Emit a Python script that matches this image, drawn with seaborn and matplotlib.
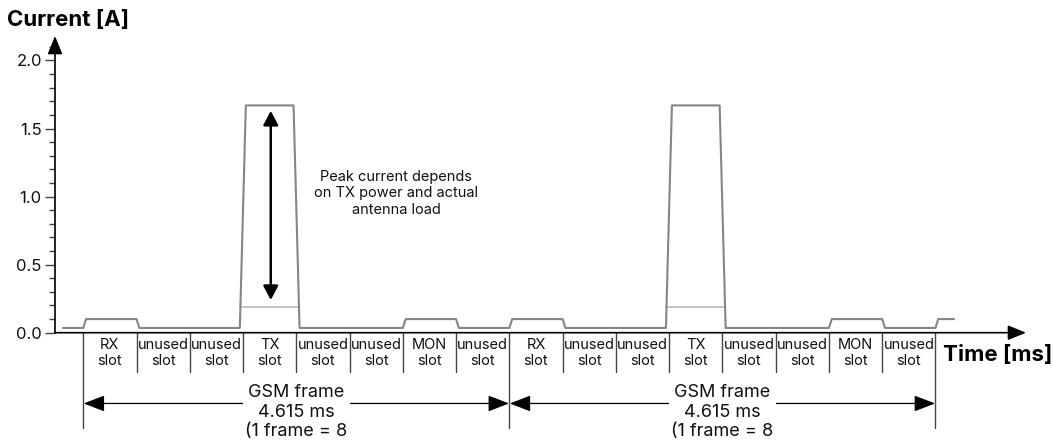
import matplotlib
matplotlib.use("Agg")
import matplotlib.pyplot as plt
import seaborn as sns
from matplotlib.ticker import MultipleLocator

# GSM burst current profile
slot_names = ["RX", "unused", "unused", "TX", "unused", "unused", "MON", "unused"]
slot_current = [0.10, 0.035, 0.035, 1.67, 0.035, 0.035, 0.10, 0.035]
idle_current = 0.035
tx_low_current = 0.19
frame_ms = 4.615
n_frames = 2
trace_start_slot = -0.38
trace_end_slot = 16.35
y_ticks = [0.0, 0.5, 1.0, 1.5, 2.0]
peak_arrow = (0.24, 1.63)

slot_ms = frame_ms / 8
ramp = 0.03
tx_ramp = 0.035

# build the trace point list from the per-slot levels
t = [trace_start_slot * slot_ms]
cur = [idle_current]
prev = idle_current
prev_tx = False
for f in range(n_frames + 1):
    for k, lvl in enumerate(slot_current):
        if f == n_frames and k > 0:
            break
        b = (f * 8 + k) * slot_ms
        is_tx = slot_names[k] == "TX"
        if lvl == prev:
            continue
        if is_tx:
            t += [b - tx_ramp, b + ramp]
        elif prev_tx:
            t += [b - ramp, b + tx_ramp]
        else:
            t += [b, b + ramp]
        cur += [prev, lvl]
        prev, prev_tx = lvl, is_tx
t.append(trace_end_slot * slot_ms)
cur.append(prev)

sns.set_theme(style="white")
plt.rcParams["font.family"] = ["Inter", "DejaVu Sans"]

fig = plt.figure(figsize=(10.54, 4.43), dpi=100)
ax = fig.add_axes([55 / 1054, 110.3 / 443, (1026 - 55) / 1054, 296.7 / 443])
ax.set_xlim(-0.531 * slot_ms, 17.70 * slot_ms)
ax.set_ylim(0, 2.18)

# light low-power TX level
for f in range(n_frames):
    x0 = (f * 8 + 3) * slot_ms - tx_ramp + 0.005
    x1 = (f * 8 + 4) * slot_ms + tx_ramp - 0.005
    sns.lineplot(x=[x0, x1], y=[tx_low_current, tx_low_current], ax=ax,
                 color="#c4c4c4", linewidth=1.4, estimator=None, sort=False)

sns.lineplot(x=t, y=cur, ax=ax, color="#858585", linewidth=1.5,
             estimator=None, sort=False)

# axes with arrow heads
for s in ax.spines.values():
    s.set_visible(False)
arrow_kw = dict(arrowstyle="-|>,head_length=1.1,head_width=0.45", color="black",
                lw=1.2, shrinkA=0, shrinkB=0, mutation_scale=10)
ax.annotate("", xy=(1, 0), xytext=(0, 0), xycoords="axes fraction",
            arrowprops=arrow_kw, annotation_clip=False)
ax.annotate("", xy=(0, 1), xytext=(0, 0), xycoords="axes fraction",
            arrowprops=arrow_kw, annotation_clip=False)

ax.set_yticks(y_ticks)
ax.set_yticklabels([f"{v:.1f}" for v in y_ticks])
ax.yaxis.set_minor_locator(MultipleLocator(0.1))
ax.tick_params(axis="y", which="major", left=True, length=7, width=1,
               color="#444444", labelsize=12, pad=2.5, labelcolor="#111111")
ax.tick_params(axis="y", which="minor", left=True, length=4.3, width=1,
               color="#444444")
ax.set_xticks([])
ax.set_xlabel("")
ax.set_ylabel("")

# slot dividers and labels under the time axis
for f in range(n_frames):
    for k, name in enumerate(slot_names):
        b = (f * 8 + k) * slot_ms
        low = -0.70 if k == 0 else -0.29
        ax.plot([b, b], [0, low], color="#444444", lw=1, clip_on=False)
        ax.text(b + slot_ms / 2, -0.149, f"{name}\nslot", ha="center",
                va="center", fontsize=10.5, linespacing=1.2, color="#111111")
end = n_frames * 8 * slot_ms
ax.plot([end, end], [0, -0.70], color="#444444", lw=1, clip_on=False)

# frame length arrows
for f in range(n_frames):
    x0 = f * frame_ms
    ax.annotate("", xy=(x0 + 0.004, -0.52), xytext=(x0 + frame_ms - 0.004, -0.52),
                arrowprops=dict(arrowstyle="<|-|>,head_length=1.3,head_width=0.5",
                                color="black", lw=0.9, shrinkA=0, shrinkB=0,
                                mutation_scale=10),
                annotation_clip=False)
    ax.text(x0 + frame_ms / 2, -0.583, "GSM frame\n4.615 ms\n(1 frame = 8",
            ha="center", va="center", fontsize=13, linespacing=1.2,
            color="#111111", bbox=dict(fc="white", ec="none", pad=2),
            clip_on=False)

# peak current arrow and note
px = 3.52 * slot_ms
ax.annotate("", xy=(px, peak_arrow[1]), xytext=(px, peak_arrow[0]),
            arrowprops=dict(arrowstyle="<|-|>,head_length=0.85,head_width=0.45",
                            color="black", lw=1.8, shrinkA=0, shrinkB=0,
                            mutation_scale=10))
ax.text(5.87 * slot_ms, 1.024, "Peak current depends\non TX power and actual\nantenna load",
        ha="center", va="center", fontsize=10.5, linespacing=1.2, color="#111111")

fig.text(7 / 1054, 1 - 20 / 443, "Current [A]", ha="left", va="center",
         fontsize=16, fontweight="bold", color="black")
fig.text(943 / 1054, 1 - 355 / 443, "Time [ms]", ha="left", va="center",
         fontsize=16, fontweight="bold", color="black")

fig.savefig("out.png", dpi=100)
